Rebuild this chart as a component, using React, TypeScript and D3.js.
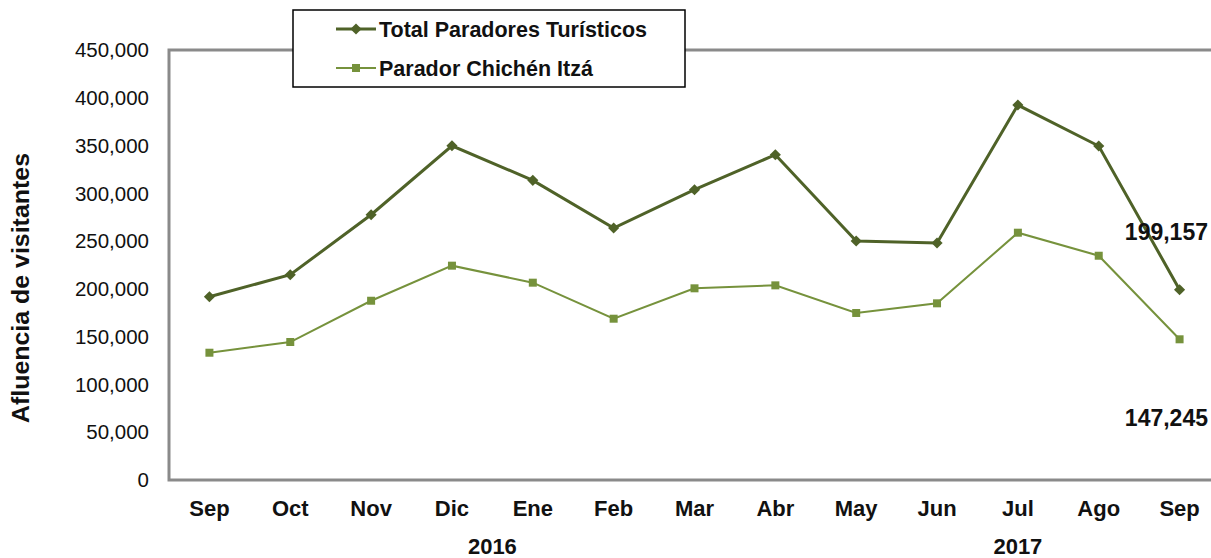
import { useMemo } from 'react';
import * as d3 from 'd3';

// meses (sep 2016 - sep 2017)
const months = ['Sep', 'Oct', 'Nov', 'Dic', 'Ene', 'Feb', 'Mar', 'Abr', 'May', 'Jun', 'Jul', 'Ago', 'Sep'];
const totalParadores = [191800, 214800, 277600, 349800, 313600, 263700, 303800, 340400, 250100, 248000, 392400, 349500, 199157];
const chichenItza = [133200, 144400, 187600, 224300, 206500, 168800, 200600, 203700, 174800, 184900, 258800, 234700, 147245];
const yTicks = [0, 50000, 100000, 150000, 200000, 250000, 300000, 350000, 400000, 450000];
const years = [
  { label: '2016', at: 3.5 },
  { label: '2017', at: 10 },
];
const seriesNames = ['Total Paradores Turísticos', 'Parador Chichén Itzá'];

const FONT = '"Liberation Sans", Arial, sans-serif';
const DARK = '#4f6228';
const LIGHT = '#76923c';

export default function App() {
  const width = 1211;
  const height = 558;
  const plot = { left: 169, right: 1220, top: 50, bottom: 480 };

  const x = useMemo(
    () => d3.scalePoint<number>().domain(d3.range(months.length)).range([plot.left, plot.right]).padding(0.5),
    []
  );
  const y = useMemo(() => d3.scaleLinear().domain([0, 450000]).range([plot.bottom, plot.top]), []);
  const fmt = d3.format(',');
  const step = x.step();

  const line = d3
    .line<number>()
    .x((_, i) => x(i) as number)
    .y((d) => y(d));

  // rombo = cuadrado girado 45°
  const diamond = d3.symbol(d3.symbolSquare, 62)();
  const square = d3.symbol(d3.symbolSquare, 64)();

  const lastIdx = months.length - 1;

  return (
    <svg width={width} height={height} style={{ position: 'absolute', left: 0, top: 0, background: '#fff' }} fontFamily={FONT}>
      {/* cuadro del área de trazado */}
      <rect
        x={plot.left}
        y={plot.top}
        width={plot.right - plot.left}
        height={plot.bottom - plot.top}
        fill="none"
        stroke="#8a8a8a"
        strokeWidth={3}
      />

      {/* eje y */}
      {yTicks.map((t) => (
        <text key={t} x={149} y={y(t)} dy="0.35em" textAnchor="end" fontSize={20.5} fill="#111">
          {fmt(t)}
        </text>
      ))}
      <text
        transform={`translate(29,${(plot.top + plot.bottom) / 2 + 23}) rotate(-90)`}
        textAnchor="middle"
        fontSize={24}
        fontWeight="bold"
        fill="#111"
        textLength={270}
        lengthAdjust="spacingAndGlyphs"
      >
        Afluencia de visitantes
      </text>

      {/* eje x */}
      {months.map((m, i) => (
        <text key={i} x={x(i)} y={508} dy="0.35em" textAnchor="middle" fontSize={22} fontWeight="bold" fill="#111">
          {m}
        </text>
      ))}
      {years.map((yr) => (
        <text
          key={yr.label}
          x={(x(0) as number) + yr.at * step}
          y={554}
          textAnchor="middle"
          fontSize={22}
          fontWeight="bold"
          fill="#111"
        >
          {yr.label}
        </text>
      ))}

      {/* series */}
      <path d={line(chichenItza) || ''} fill="none" stroke={LIGHT} strokeWidth={2} />
      {chichenItza.map((d, i) => (
        <path key={i} d={square || ''} transform={`translate(${x(i)},${y(d)})`} fill={LIGHT} />
      ))}
      <path d={line(totalParadores) || ''} fill="none" stroke={DARK} strokeWidth={3} />
      {totalParadores.map((d, i) => (
        <path key={i} d={diamond || ''} transform={`translate(${x(i)},${y(d)}) rotate(45)`} fill={DARK} />
      ))}

      {/* etiquetas del último mes */}
      <text x={1208} y={232} dy="0.35em" textAnchor="end" fontSize={23} fontWeight="bold" fill="#111">
        {fmt(totalParadores[lastIdx])}
      </text>
      <text x={1208} y={418} dy="0.35em" textAnchor="end" fontSize={23} fontWeight="bold" fill="#111">
        {fmt(chichenItza[lastIdx])}
      </text>

      {/* leyenda */}
      <g>
        <rect x={293} y={10} width={392} height={77} fill="#fff" stroke="#000" strokeWidth={1.5} />
        {seriesNames.map((name, i) => {
          const cy = 29 + i * 39;
          const col = i === 0 ? DARK : LIGHT;
          return (
            <g key={name}>
              <line x1={336} x2={376} y1={cy} y2={cy} stroke={col} strokeWidth={i === 0 ? 3 : 2} />
              <path
                d={(i === 0 ? diamond : square) || ''}
                transform={`translate(356,${cy})${i === 0 ? ' rotate(45)' : ''}`}
                fill={col}
              />
              <text x={379} y={cy} dy="0.35em" fontSize={21.5} fontWeight="bold" fill="#111">
                {name}
              </text>
            </g>
          );
        })}
      </g>
    </svg>
  );
}
